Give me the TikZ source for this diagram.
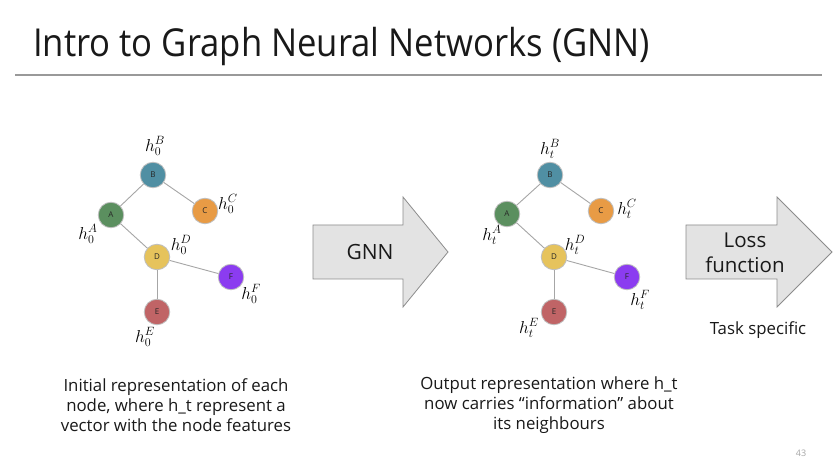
\documentclass[tikz,border=0pt]{standalone}
\usepackage{fontspec}
\setmainfont{Open Sans}
\newfontfamily\titlefont[FakeStretch=0.90]{Open Sans}
\begin{document}
\begin{tikzpicture}[x=1pt,y=-1pt,
  gnode/.style={circle,draw=black!25,line width=0.8pt,minimum size=25.5pt,inner sep=0pt,
    font=\fontsize{8}{9}\selectfont\color{black!85}},
  gedge/.style={draw=black!35,line width=0.9pt},
  hlab/.style={font=\fontsize{17}{20}\selectfont},
  bigarrow/.style={draw=black!45,line width=0.8pt,fill=black!11},
  caption/.style={align=center,font=\fontsize{16.8}{20}\selectfont,text=black!90}
]
\useasboundingbox (0,0) rectangle (839,465);
\fill[white] (0,0) rectangle (839,465);

% title and rule
\node[anchor=base west,inner sep=0pt,font=\titlefont\fontsize{38.5}{44}\selectfont,text=black!90] (title) at (33,57) {Intro to Graph Neural Networks (GNN)};
\draw[black!40,line width=1.2pt] (15,75) -- (822,75);

% colours of the graph nodes
\definecolor{cA}{HTML}{5B8F5F}
\definecolor{cB}{HTML}{508FA3}
\definecolor{cC}{HTML}{E89B45}
\definecolor{cD}{HTML}{E6C35C}
\definecolor{cE}{HTML}{C06466}
\definecolor{cF}{HTML}{8B3CF0}

% initial graph
\node[gnode,fill=cB] (B1) at (153,175) {B};
\node[gnode,fill=cC] (C1) at (205,211) {C};
\node[gnode,fill=cA] (A1) at (111,215) {A};
\node[gnode,fill=cD] (D1) at (157,257) {D};
\node[gnode,fill=cF] (F1) at (231,277) {F};
\node[gnode,fill=cE] (E1) at (157,312) {E};
\draw[gedge] (A1) -- (B1);
\draw[gedge] (B1) -- (C1);
\draw[gedge] (A1) -- (D1);
\draw[gedge] (D1) -- (F1);
\draw[gedge] (D1) -- (E1);
\node[hlab] (hB1) at (155,146) {$h_0^B$};
\node[hlab] (hC1) at (228,204) {$h_0^C$};
\node[hlab] (hA1) at (88,234) {$h_0^A$};
\node[hlab] (hD1) at (181,245) {$h_0^D$};
\node[hlab] (hF1) at (251,294) {$h_0^F$};
\node[hlab] (hE1) at (145,337) {$h_0^E$};

% output graph
\node[gnode,fill=cB] (B2) at (550,175) {B};
\node[gnode,fill=cC] (C2) at (601,211) {C};
\node[gnode,fill=cA] (A2) at (507,214) {A};
\node[gnode,fill=cD] (D2) at (554,257) {D};
\node[gnode,fill=cF] (F2) at (627,277) {F};
\node[gnode,fill=cE] (E2) at (554,312) {E};
\draw[gedge] (A2) -- (B2);
\draw[gedge] (B2) -- (C2);
\draw[gedge] (A2) -- (D2);
\draw[gedge] (D2) -- (F2);
\draw[gedge] (D2) -- (E2);
\node[hlab] (hB2) at (550,149) {$h_t^B$};
\node[hlab] (hC2) at (627,209) {$h_t^C$};
\node[hlab] (hA2) at (492,235) {$h_t^A$};
\node[hlab] (hD2) at (575,245) {$h_t^D$};
\node[hlab] (hF2) at (640,300) {$h_t^F$};
\node[hlab] (hE2) at (529,328) {$h_t^E$};

% block arrows
\draw[bigarrow] (313,225) -- (403,225) -- (403,197) -- (448,252) -- (403,307) -- (403,279) -- (313,279) -- cycle;
\node[font=\fontsize{21}{25}\selectfont,text=black!90] (gnn) at (370,252) {GNN};
\draw[bigarrow] (686,225) -- (777,225) -- (777,197) -- (832,252) -- (777,307) -- (777,279) -- (686,279) -- cycle;
\node[align=center,font=\fontsize{20.5}{24.5}\selectfont,text=black!90] (loss) at (745,253) {Loss\\function};
\node[font=\fontsize{16.8}{20}\selectfont,text=black!90] (task) at (758,330) {Task specific};

% captions
\node[caption] (cap1) at (176,405) {Initial representation of each\\node, where h\_t represent a\\vector with the node features};
\node[caption] (cap2) at (549,405) {Output representation where h\_t\\now carries “information” about\\its neighbours};

% slide number
\node[font=\fontsize{9}{10}\selectfont,text=black!35] (num) at (801,453) {43};
\end{tikzpicture}
\end{document}
